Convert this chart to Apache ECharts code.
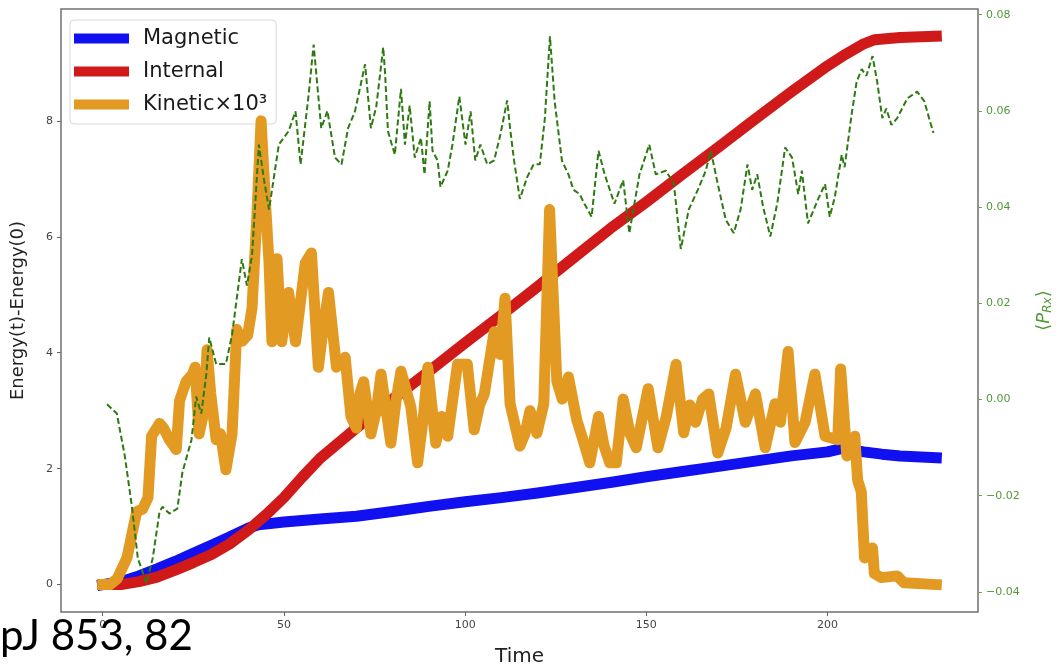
<!DOCTYPE html>
<html>
<head>
<meta charset="utf-8">
<script src="https://cdn.jsdelivr.net/npm/echarts@6/dist/echarts.min.js"></script>
<style>
  html, body { margin: 0; padding: 0; background: #ffffff; }
  #chart { width: 1062px; height: 672px; }
</style>
</head>
<body>
<div id="chart"></div>
<script>
// ---- data ----
const xTicks = [0, 50, 100, 150, 200];
const leftTicks = [0, 2, 4, 6, 8];
const rightTicks = [-0.04, -0.02, 0.00, 0.02, 0.04, 0.06, 0.08];

const magneticT = [0, 5, 10, 15, 20, 25, 30, 35, 40, 43, 50, 60, 70, 80, 90, 100, 110, 120, 130, 140, 150, 160, 170, 180, 190, 200, 204, 210, 215, 220, 230];
const magneticE = [0, 0.05, 0.15, 0.27, 0.4, 0.54, 0.68, 0.82, 0.97, 1.03, 1.08, 1.13, 1.18, 1.26, 1.35, 1.43, 1.5, 1.58, 1.67, 1.76, 1.86, 1.95, 2.04, 2.13, 2.22, 2.29, 2.35, 2.29, 2.25, 2.22, 2.19];

const internalT = [0, 5, 10, 15, 20, 25, 30, 35, 40, 45, 50, 55, 60, 70, 80, 90, 100, 110, 120, 130, 140, 150, 160, 170, 180, 190, 200, 205, 210, 213, 220, 230];
const internalE = [0, 0.0, 0.05, 0.13, 0.25, 0.38, 0.52, 0.7, 0.93, 1.2, 1.5, 1.85, 2.18, 2.7, 3.2, 3.68, 4.17, 4.65, 5.14, 5.64, 6.14, 6.6, 7.08, 7.55, 8.03, 8.5, 8.95, 9.15, 9.33, 9.4, 9.44, 9.46];

const kineticT = [0, 2, 4, 6.7, 8.5, 9.4, 11, 12.5, 13.5, 15.7, 16.8, 18.4, 20.3, 21.2, 23, 24.8, 25.5, 26.6, 28, 28.8, 29.8, 31.3, 32.5, 34, 35.7, 37, 38.5, 40, 41.2, 42.5, 43.7, 45, 45.9, 46.7, 48.1, 49.4, 51.3, 53.2, 55.9, 57.6, 59.5, 60.8, 62.3, 64.5, 66.9, 68.5, 70, 71, 72, 74, 75.5, 76.8, 78, 79.5, 81, 82.3, 85, 86.9, 88.5, 89.7, 91.9, 93.5, 95.2, 97.9, 100.6, 102.5, 104, 105.3, 108, 109.7, 111, 112.4, 115.1, 116.5, 117.9, 119.8, 121.7, 123.3, 125.3, 126.8, 128.5, 130.8, 132.5, 134.4, 136.8, 138.3, 139.9, 141.7, 143.6, 145.5, 147.2, 150.5, 153.2, 155.5, 158.2, 160.3, 162, 163.6, 165.5, 167.2, 169.7, 172, 174.6, 177.3, 180.1, 182.8, 185.5, 187, 189.1, 191, 193.8, 196.5, 199.3, 202.8, 203.6, 205.3, 207.5, 208.3, 209.3, 210.2, 212.4, 212.9, 214.8, 219.2, 221.1, 230];
const kineticE = [0, 0, 0.1, 0.46, 1.0, 1.26, 1.3, 1.5, 2.56, 2.78, 2.7, 2.5, 2.33, 3.17, 3.5, 3.63, 3.75, 2.6, 3.0, 4.05, 3.3, 2.5, 2.6, 1.98, 2.6, 4.4, 4.2, 4.3, 4.77, 6.3, 8.0, 6.5, 5.55, 4.19, 5.62, 4.19, 5.04, 4.19, 5.55, 5.72, 3.75, 4.4, 5.04, 3.75, 3.92, 2.9, 2.7, 3.3, 3.5, 2.6, 3.0, 3.63, 3.1, 2.44, 3.2, 3.68, 3.07, 2.1, 2.9, 3.75, 2.44, 2.9, 2.56, 3.8, 3.8, 2.67, 3.1, 3.29, 4.36, 3.97, 4.94, 3.12, 2.39, 2.6, 3.0, 2.61, 3.12, 6.47, 3.51, 3.2, 3.58, 2.84, 2.5, 2.1, 2.9, 2.4, 2.1, 2.1, 3.2, 2.6, 2.36, 3.38, 2.36, 2.9, 3.8, 2.62, 3.1, 2.8, 3.2, 3.29, 2.27, 2.7, 3.63, 2.8, 3.29, 2.36, 3.12, 2.8, 4.02, 2.45, 2.8, 3.63, 2.56, 2.5, 3.72, 2.22, 2.56, 1.8, 1.6, 0.46, 0.63, 0.19, 0.12, 0.15, 0.03, 0.0];

const prxT = [1.2, 3.9, 6.1, 8, 9.7, 12.1, 13.8, 15.7, 16.5, 18.4, 20.6, 22, 24.5, 25.8, 27.2, 28.6, 29.4, 31.3, 34, 35.7, 38.4, 39.8, 41.2, 43.1, 44.4, 45.9, 48.6, 51.3, 53.2, 54.6, 56.8, 58.2, 60.3, 62, 64.1, 65.9, 67.7, 69.6, 72.4, 74, 75.5, 77.4, 77.9, 78.7, 80.6, 82.3, 83.4, 84.7, 86.1, 87.8, 88.8, 90.2, 91, 92.4, 93.2, 95.2, 96.5, 98.4, 100.1, 101.5, 102.8, 104.2, 106.1, 108, 109.7, 111.6, 112.4, 113.5, 115.1, 117.1, 118.9, 120.6, 122, 123.4, 124.7, 126.7, 128.5, 129.9, 131.6, 132.9, 134.9, 136.8, 138.5, 141.2, 143.6, 145.3, 148.1, 150.8, 152.6, 155.4, 157.6, 159.5, 161.7, 164.2, 166.4, 167.8, 169.7, 171.9, 174.1, 176, 177.9, 179.2, 180.6, 182.2, 184.2, 186.1, 188.3, 190.2, 191.9, 192.9, 194.6, 197.3, 199.3, 200.6, 202, 203.9, 204.7, 206.6, 208, 209.4, 210.7, 212.4, 213.7, 215.1, 216.2, 217.6, 219.2, 222, 224.7, 226.7, 228, 229.2];
const prxV = [-0.001, -0.0029, -0.0117, -0.0219, -0.033, -0.0382, -0.033, -0.0233, -0.0223, -0.0237, -0.0227, -0.0151, -0.0084, 0.0006, -0.0029, 0.0053, 0.0129, 0.0074, 0.0074, 0.0135, 0.0292, 0.0237, 0.0299, 0.053, 0.0462, 0.0395, 0.053, 0.0558, 0.0599, 0.0489, 0.0632, 0.0738, 0.0564, 0.0600, 0.0503, 0.0489, 0.0564, 0.0599, 0.0697, 0.0564, 0.0610, 0.0732, 0.068, 0.0558, 0.0509, 0.0646, 0.053, 0.0611, 0.0503, 0.0544, 0.0468, 0.062, 0.0517, 0.0497, 0.0442, 0.0476, 0.053, 0.063, 0.053, 0.0599, 0.0497, 0.053, 0.0489, 0.0497, 0.055, 0.0622, 0.0564, 0.0497, 0.0417, 0.0462, 0.0489, 0.0489, 0.0585, 0.0755, 0.062, 0.0497, 0.0468, 0.0436, 0.0427, 0.0407, 0.038, 0.0517, 0.0468, 0.0407, 0.0456, 0.0346, 0.0468, 0.053, 0.0468, 0.0476, 0.0448, 0.0313, 0.0395, 0.0436, 0.0476, 0.0517, 0.0448, 0.0374, 0.0346, 0.0395, 0.0489, 0.0436, 0.0468, 0.0401, 0.0339, 0.0407, 0.0524, 0.0503, 0.0427, 0.0476, 0.0366, 0.0415, 0.0448, 0.038, 0.0421, 0.0509, 0.0483, 0.0591, 0.066, 0.0687, 0.0673, 0.0714, 0.066, 0.0585, 0.0605, 0.0571, 0.0585, 0.0626, 0.064, 0.062, 0.0585, 0.0554];

const zip = (a, b) => a.map((v, i) => [v, b[i]]);

const FONT = 'DejaVu Sans';
const chart = echarts.init(document.getElementById('chart'), null, { renderer: 'canvas' });

const option = {
  animation: false,
  backgroundColor: '#ffffff',
  textStyle: { fontFamily: FONT },
  grid: {
    left: 61, right: 78, top: 9, bottom: 50,
    show: true, borderColor: '#707070', borderWidth: 1.5, backgroundColor: 'transparent'
  },
  legend: {
    orient: 'vertical',
    left: 70, top: 20,
    padding: [8, 9, 9, 4],
    icon: 'rect',
    itemWidth: 55, itemHeight: 10, itemGap: 12,
    backgroundColor: 'rgba(255,255,255,0.85)',
    borderColor: '#d8d8d8', borderWidth: 1, borderRadius: 4,
    textStyle: { fontFamily: FONT, fontSize: 21, color: '#1a1a1a', padding: [0, 0, 0, 9] },
    data: ['Magnetic', 'Internal', 'Kinetic×10³']
  },
  xAxis: {
    type: 'value', min: -11.5, max: 241.5,
    name: 'Time', nameLocation: 'middle', nameGap: 35,
    nameTextStyle: { fontFamily: FONT, fontSize: 20, color: '#222' },
    axisLine: { show: false, onZero: false },
    axisTick: { show: true, customValues: xTicks, length: 4, lineStyle: { color: '#666' } },
    axisLabel: { customValues: xTicks, fontSize: 11, color: '#444', margin: 8, fontFamily: FONT },
    splitLine: { show: false }
  },
  yAxis: [
    {
      type: 'value', min: -0.473, max: 9.93, position: 'left',
      name: 'Energy(t)-Energy(0)', nameLocation: 'middle', nameGap: 34,
      nameTextStyle: { fontFamily: FONT, fontSize: 18, color: '#222' },
      axisLine: { show: false, onZero: false },
      axisTick: { show: true, customValues: leftTicks, length: 4, lineStyle: { color: '#666' } },
      axisLabel: { customValues: leftTicks, fontSize: 11, color: '#444', margin: 8, fontFamily: FONT },
      splitLine: { show: false }
    },
    {
      type: 'value', min: -0.04417, max: 0.08119, position: 'right',
      name: '⟨{p|P}{s|Rx}⟩', nameLocation: 'middle', nameGap: 56,
      nameTextStyle: {
        fontFamily: FONT, fontSize: 18, color: '#4f9a35',
        rich: {
          p: { fontFamily: FONT, fontSize: 18, fontStyle: 'italic', color: '#4f9a35' },
          s: { fontFamily: FONT, fontSize: 12, fontStyle: 'italic', color: '#4f9a35', verticalAlign: 'bottom', padding: [8, 0, 0, 0] }
        }
      },
      axisLine: { show: false, onZero: false },
      axisTick: { show: true, customValues: rightTicks, length: 4, lineStyle: { color: '#6aa050' } },
      axisLabel: {
        customValues: rightTicks, fontSize: 11, color: '#4f9a35', margin: 8, fontFamily: FONT,
        formatter: v => (v < -1e-9 ? '\u2212' : '') + Math.abs(v).toFixed(2)
      },
      splitLine: { show: false }
    }
  ],
  series: [
    {
      name: 'Magnetic', type: 'line', yAxisIndex: 0, showSymbol: false, symbol: 'none',
      color: '#1010f0',
      lineStyle: { width: 11, color: '#1010f0', cap: 'square', join: 'round' },
      data: zip(magneticT, magneticE), z: 2
    },
    {
      name: 'Internal', type: 'line', yAxisIndex: 0, showSymbol: false, symbol: 'none',
      color: '#d01a1a',
      lineStyle: { width: 11, color: '#d01a1a', cap: 'square', join: 'round' },
      data: zip(internalT, internalE), z: 3
    },
    {
      name: 'Kinetic×10³', type: 'line', yAxisIndex: 0, showSymbol: false, symbol: 'none',
      color: '#e29a22',
      lineStyle: { width: 11, color: '#e29a22', cap: 'square', join: 'round' },
      data: zip(kineticT, kineticE), z: 4
    },
    {
      name: 'PRx', type: 'line', yAxisIndex: 1, showSymbol: false, symbol: 'none',
      color: '#2d7a12',
      lineStyle: { width: 2, color: '#2d7a12', type: [6, 3] },
      data: zip(prxT, prxV), z: 5
    }
  ],
  graphic: [
    {
      type: 'text', left: 0, top: 615, z: 100,
      style: { text: 'pJ 853, 82', font: '42px Lato', fill: '#000000' }
    }
  ]
};
chart.setOption(option);
</script>
</body>
</html>
